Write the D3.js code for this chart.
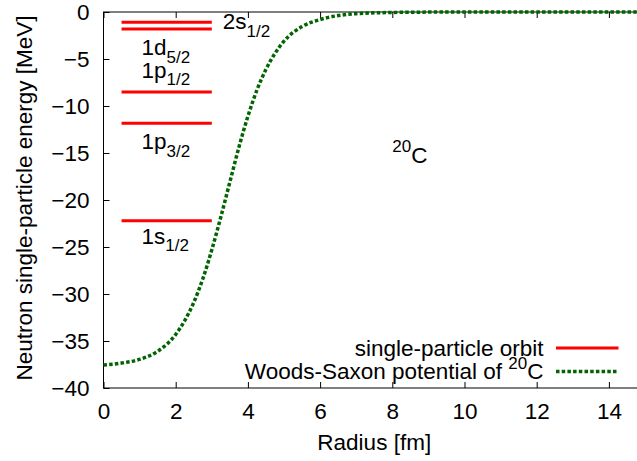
<!DOCTYPE html>
<html>
<head>
<meta charset="utf-8">
<script src="https://cdn.jsdelivr.net/npm/d3@7"></script>
<style>
  body { margin: 0; background: #fff; }
  svg { display: block; font-family: "Liberation Sans", Arial, sans-serif; }
</style>
</head>
<body>
<svg width="637" height="461"></svg>
<script>
// single-particle levels of 20C (MeV)
var levelNames = ["2s", "1d", "1p", "1p", "1s"];
var levelSubs = ["1/2", "5/2", "1/2", "3/2", "1/2"];
var levelEnergy = [-1.10, -1.81, -8.51, -11.84, -22.2];
var levelFrom = 0.5, levelTo = 3.0;   // radius span of the level bars

// Woods-Saxon potential
var wsRadius = [0, 0.5, 1, 1.5, 2, 2.5, 2.75, 3, 3.25, 3.5, 3.75, 4, 4.25, 4.5, 4.75, 5, 5.5, 6, 6.5, 7, 8, 9, 10, 12, 15];
var wsDepth  = [-37.55, -37.35, -36.95, -36.1, -34.3, -30.9, -28.4, -25.3, -21.8, -18.1, -14.4, -11.1, -8.3, -6.1, -4.4, -3.1, -1.55, -0.8, -0.38, -0.18, -0.05, -0.01, 0, 0, 0];

var xTicks = [0, 2, 4, 6, 8, 10, 12, 14];
var yTicks = [0, -5, -10, -15, -20, -25, -30, -35, -40];

// label placement (pixels relative to the bar): which end, dx, dy of baseline
var labelPlace = [
  {end: "right", dx: 11, dy: 7},
  {end: "left", dx: 20, dy: 26},
  {end: "left", dx: 20, dy: -14},
  {end: "left", dx: 20, dy: 26},
  {end: "left", dx: 20, dy: 23}
];

var svg = d3.select("svg");
var fs = 22.5, fsSmall = 17;

var x = d3.scaleLinear().domain([0, 15]).range([103.5, 103.5 + 15 * 36.1]);
var y = d3.scaleLinear().domain([-40, 0]).range([388, 12]);

// frame
svg.append("rect")
    .attr("x", x(0)).attr("y", y(0))
    .attr("width", x(15) - x(0)).attr("height", y(-40) - y(0))
    .attr("fill", "none").attr("stroke", "#000").attr("stroke-width", 1);

var gx = svg.append("g").attr("transform", "translate(0," + y(-40) + ")")
    .call(d3.axisBottom(x).tickValues(xTicks).tickSize(-6).tickSizeOuter(0).tickPadding(15.3));
var gxTop = svg.append("g").attr("transform", "translate(0," + y(0) + ")")
    .call(d3.axisTop(x).tickValues(xTicks).tickSize(-6).tickSizeOuter(0).tickFormat(""));
var gy = svg.append("g").attr("transform", "translate(" + x(0) + ",0)")
    .call(d3.axisLeft(y).tickValues(yTicks).tickSize(-6).tickSizeOuter(0).tickPadding(14));

[gx, gxTop, gy].forEach(function(g) {
  g.select(".domain").remove();
  g.selectAll("line").attr("stroke", "#000");
  g.selectAll("text").attr("fill", "#000").style("font-size", fs + "px").style("font-family", "Liberation Sans, Arial, sans-serif");
});

// axis titles
svg.append("text")
    .attr("x", x(7.5)).attr("y", 450)
    .attr("text-anchor", "middle").style("font-size", fs + "px")
    .text("Radius [fm]");
svg.append("text")
    .attr("transform", "translate(32," + (y(-20) - 2) + ")rotate(-90)")
    .attr("text-anchor", "middle").style("font-size", fs + "px")
    .text("Neutron single-particle energy [MeV]");

// potential curve
var ws = wsRadius.map(function(r, i) { return [r, wsDepth[i]]; });
var line = d3.line()
    .x(function(d) { return x(d[0]); })
    .y(function(d) { return y(d[1]); })
    .curve(d3.curveMonotoneX);

svg.append("path")
    .datum(ws)
    .attr("d", line)
    .attr("fill", "none")
    .attr("stroke", "#006400")
    .attr("stroke-width", 3.5)
    .attr("stroke-dasharray", "3.5,2.2");

// levels
svg.append("g").selectAll("line")
    .data(levelEnergy)
    .enter().append("line")
    .attr("x1", x(levelFrom)).attr("x2", x(levelTo))
    .attr("y1", function(d) { return y(d); })
    .attr("y2", function(d) { return y(d); })
    .attr("stroke", "#ff0000")
    .attr("stroke-width", 3);

levelEnergy.forEach(function(e, i) {
  var p = labelPlace[i];
  var lx = (p.end == "right" ? x(levelTo) : x(levelFrom)) + p.dx;
  var t = svg.append("text")
      .attr("x", lx).attr("y", y(e) + p.dy)
      .style("font-size", fs + "px");
  t.append("tspan").text(levelNames[i]);
  t.append("tspan").attr("dy", 7.5).style("font-size", fsSmall + "px").text(levelSubs[i]);
});

// nucleus label
var nl = svg.append("text").attr("x", x(8)).attr("y", y(-16.1)).style("font-size", fs + "px");
nl.append("tspan").attr("dy", -11).style("font-size", fsSmall + "px").text("20");
nl.append("tspan").attr("dy", 11).text("C");

// legend
var legY = [348, 371.5];
svg.append("line")
    .attr("x1", 556).attr("x2", 618.5).attr("y1", legY[0]).attr("y2", legY[0])
    .attr("stroke", "#ff0000").attr("stroke-width", 3);
svg.append("line")
    .attr("x1", 556).attr("x2", 618.5).attr("y1", legY[1]).attr("y2", legY[1])
    .attr("stroke", "#006400").attr("stroke-width", 3.5)
    .attr("stroke-dasharray", "3.5,2.2");

svg.append("text")
    .attr("x", 543.5).attr("y", legY[0]).attr("dy", "0.35em")
    .attr("text-anchor", "end").style("font-size", fs + "px")
    .text("single-particle orbit");
var l2 = svg.append("text")
    .attr("x", 543.5).attr("y", legY[1]).attr("dy", "0.35em")
    .attr("text-anchor", "end").style("font-size", fs + "px");
l2.append("tspan").text("Woods-Saxon potential of ");
l2.append("tspan").attr("dy", -10).style("font-size", fsSmall + "px").text("20");
l2.append("tspan").attr("dy", 10).text("C");
</script>
</body>
</html>
